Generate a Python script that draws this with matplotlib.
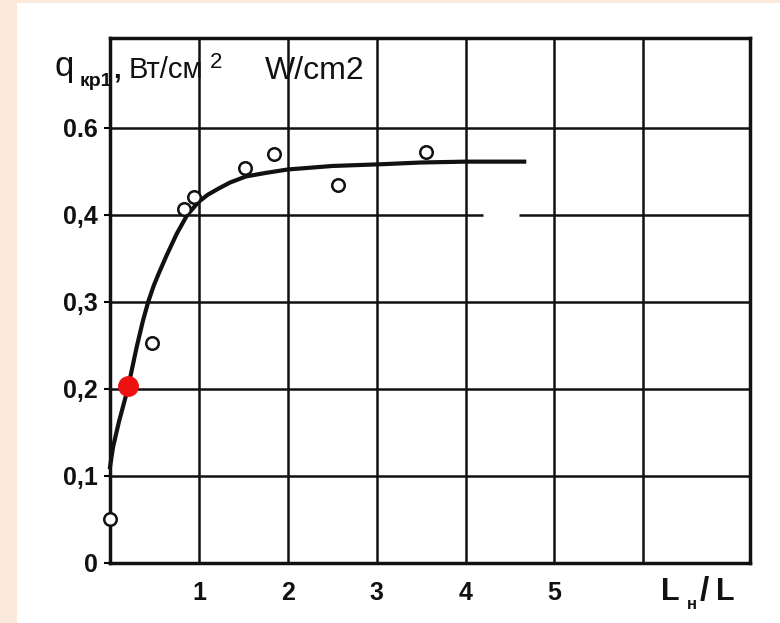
import matplotlib.pyplot as plt
from matplotlib.patches import Rectangle

# measured points (open circles)
pts_x = [0.0, 0.47, 0.83, 0.95, 1.52, 1.84, 2.56, 3.55]
pts_y = [0.05, 0.253, 0.407, 0.42, 0.454, 0.47, 0.434, 0.472]

# highlighted point
red_x = [0.2]
red_y = [0.203]

# fitted curve
curve_x = [0.0, 0.034, 0.1, 0.2, 0.3, 0.37, 0.43, 0.49, 0.55, 0.64, 0.75,
           0.87, 1.0, 1.1, 1.22, 1.35, 1.53, 1.75, 2.0, 2.5, 3.05, 3.5, 4.0,
           4.66]
curve_y = [0.11, 0.133, 0.162, 0.20, 0.248, 0.278, 0.300, 0.318, 0.333,
           0.354, 0.378, 0.40, 0.415, 0.423, 0.43, 0.437, 0.444, 0.448,
           0.452, 0.456, 0.458, 0.46, 0.461, 0.461]

x_grid = [1, 2, 3, 4, 5, 6]
y_grid = [0.1, 0.2, 0.3, 0.4, 0.5]
x_ticklabels = ["1", "2", "3", "4", "5", ""]
y_ticks = [0, 0.1, 0.2, 0.3, 0.4, 0.5]
y_ticklabels = ["0", "0,1", "0,2", "0,3", "0,4", "0.6"]

W, H = 780, 623
plt.rcParams['font.family'] = ['Liberation Sans', 'DejaVu Sans']
fig = plt.figure(figsize=(W / 100, H / 100), dpi=100, facecolor="#fbeadb")
fig.patches.append(Rectangle((17 / W, 0), 1 - 17 / W, (H - 3) / H,
                             transform=fig.transFigure, facecolor="white",
                             edgecolor="none", zorder=-5))

ax = fig.add_axes([110 / W, 60 / H, 640 / W, 525 / H])
ax.set_zorder(2)
ax.set_xlim(0, 7.2)
ax.set_ylim(0, 0.603)
ax.set_facecolor("white")

ink = "#111111"
# grid, drawn by hand because the 0.4 line is broken in the scan
for gx in x_grid:
    ax.axvline(gx, color=ink, lw=1.8, zorder=1)
for gy in y_grid:
    if gy == 0.4:
        ax.hlines(gy, 0, 4.2, color=ink, lw=1.8, zorder=1)
        ax.hlines(gy, 4.6, 7.2, color=ink, lw=1.8, zorder=1)
    else:
        ax.axhline(gy, color=ink, lw=1.8, zorder=1)

ax.plot(curve_x, curve_y, color=ink, lw=3, zorder=3, clip_on=False,
        solid_joinstyle="round")
ax.plot(pts_x, pts_y, "o", mfc="white", mec=ink, ms=9, mew=1.8,
        zorder=4, clip_on=False)
ax.plot(red_x, red_y, "o", color="#ee1111", ms=14, zorder=5, clip_on=False)

for s in ax.spines.values():
    s.set_linewidth(2.5)
    s.set_color(ink)

ax.set_xticks(x_grid)
ax.set_xticklabels(x_ticklabels)
ax.set_yticks(y_ticks)
ax.set_yticklabels(y_ticklabels)
ax.tick_params(axis="x", length=0, pad=13, labelsize=18, labelcolor=ink)
ax.tick_params(axis="y", length=4, width=1.5, pad=5, labelsize=18,
               labelcolor=ink)
for lab in ax.get_xticklabels() + ax.get_yticklabels():
    lab.set_fontweight("bold")

# axis labels written as free text
def ftext(px, py, s, size, weight="normal"):
    fig.text(px / W, 1 - py / H, s, fontsize=size, color=ink, va="baseline",
             fontweight=weight)

ftext(54, 76, "q", 25)
ftext(80, 86, "кр1", 14, "bold")
ftext(113, 78, ",", 20, "bold")
ftext(129, 78, "Вт/см", 21)
ftext(210, 68, "2", 16)
ftext(265, 79, "W/cm2", 23)

ftext(661, 600, "L", 22, "bold")
ftext(687, 609, "н", 12, "bold")
ftext(700, 600, "/", 24, "bold")
ftext(716, 600, "L", 22, "bold")

fig.savefig("out.png", dpi=100, facecolor=fig.get_facecolor())
